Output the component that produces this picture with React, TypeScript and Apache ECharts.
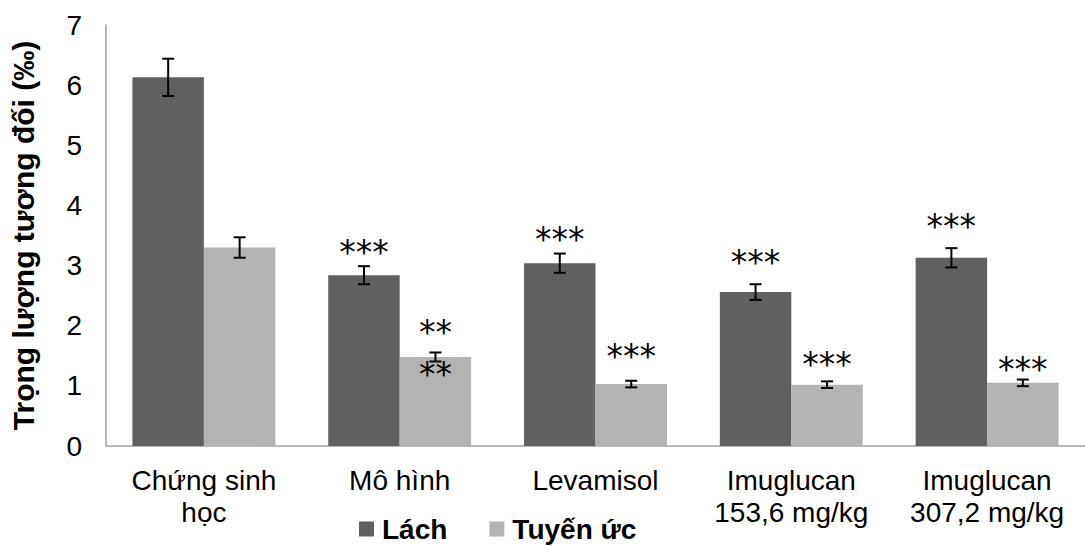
import React, { useEffect, useRef } from "react";
import * as echarts from "echarts";

const categories = [
  "Chứng sinh\nhọc",
  "Mô hình",
  "Levamisol",
  "Imuglucan\n153,6 mg/kg",
  "Imuglucan\n307,2 mg/kg",
];
const lachValues = [6.13, 2.84, 3.04, 2.56, 3.13];
const lachErrors = [0.31, 0.15, 0.16, 0.13, 0.16];
const tuyenValues = [3.3, 1.48, 1.03, 1.02, 1.05];
const tuyenErrors = [0.17, 0.075, 0.055, 0.055, 0.055];
const lachStars = ["", "***", "***", "***", "***"];
const tuyenStars = ["", "**", "***", "***", "***"];
const tuyenStarsBelow = ["", "**", "", "", ""];

// annotation offsets (px) above the error bar top
const lachStarLift = [0, 14, 14, 22, 22];
const tuyenStarLift = [0, 20, 24, 17, 10];
const belowDrop = 13;

const LACH_COLOR = "#606060";
const TUYEN_COLOR = "#b3b3b3";
const GAP_RATIO = 0.27;
const STAR_FONT = '33px "DejaVu Sans"';

function makeRender(side: number, starsAbove: string[], lift: number[], starsBelow: string[] | null) {
  return (params: any, api: any) => {
    const idx = api.value(0);
    const v = api.value(1);
    const e = api.value(2);
    const c = api.coord([idx, v]);
    const bw = (api.size([1, 0])[0] * (1 - GAP_RATIO)) / 2;
    const x = c[0] + (side * bw) / 2;
    const yTop = api.coord([idx, v + e])[1];
    const yBot = api.coord([idx, v - e])[1];
    const cap = 6;
    const ls = { stroke: "#000", lineWidth: 2 };
    const children: any[] = [
      { type: "line", shape: { x1: x, y1: yTop, x2: x, y2: yBot }, style: ls },
      { type: "line", shape: { x1: x - cap, y1: yTop, x2: x + cap, y2: yTop }, style: ls },
      { type: "line", shape: { x1: x - cap, y1: yBot, x2: x + cap, y2: yBot }, style: ls },
    ];
    const s = starsAbove[params.dataIndex];
    if (s) {
      children.push({
        type: "text",
        x: x,
        y: yTop - lift[params.dataIndex],
        style: {
          text: s,
          font: STAR_FONT,
          fill: "#000",
          align: "center",
          verticalAlign: "middle",
          textAlign: "center",
          textVerticalAlign: "middle",
        },
      });
    }
    if (starsBelow && starsBelow[params.dataIndex]) {
      children.push({
        type: "text",
        x: x,
        y: yBot + belowDrop,
        style: {
          text: starsBelow[params.dataIndex],
          font: STAR_FONT,
          fill: "#000",
          align: "center",
          verticalAlign: "middle",
          textAlign: "center",
          textVerticalAlign: "middle",
        },
      });
    }
    return { type: "group", children };
  };
}

export default function App() {
  const ref = useRef<HTMLDivElement>(null);
  useEffect(() => {
    if (!ref.current) return;
    const chart = echarts.init(ref.current, null, { renderer: "svg" });
    const font = '"Liberation Sans", Arial, sans-serif';
    chart.setOption({
      animation: false,
      backgroundColor: "#fff",
      grid: { left: 105, right: -5, top: 25, bottom: 100 },
      legend: {
        left: 354,
        top: 510,
        itemWidth: 15,
        itemHeight: 15,
        itemGap: 42,
        textStyle: {
          fontFamily: font,
          fontSize: 28,
          fontWeight: "bold",
          color: "#000",
          padding: [0, 0, 0, 3],
        },
        data: [
          { name: "Lách", icon: "rect" },
          { name: "Tuyến ức", icon: "rect" },
        ],
      },
      xAxis: {
        type: "category",
        data: categories,
        axisLine: { show: true, lineStyle: { color: "#a0a0a0", width: 1.5 } },
        axisTick: { show: false },
        axisLabel: {
          interval: 0,
          margin: 18,
          fontFamily: font,
          fontSize: 28,
          lineHeight: 32,
          color: "#000",
        },
      },
      yAxis: {
        type: "value",
        min: 0,
        max: 7,
        interval: 1,
        name: "Trọng lượng tương đối (‰)",
        nameLocation: "middle",
        nameGap: 68,
        nameTextStyle: {
          fontFamily: font,
          fontSize: 30,
          fontWeight: "bold",
          color: "#000",
        },
        axisLine: { show: true, lineStyle: { color: "#a0a0a0", width: 1.5 } },
        axisTick: { show: false },
        splitLine: { show: false },
        axisLabel: { margin: 24, fontFamily: font, fontSize: 28, color: "#000" },
      },
      series: [
        {
          name: "Lách",
          type: "bar",
          data: lachValues,
          barGap: "0%",
          barCategoryGap: GAP_RATIO * 100 + "%",
          itemStyle: { color: LACH_COLOR },
        },
        {
          name: "Tuyến ức",
          type: "bar",
          data: tuyenValues,
          barGap: "0%",
          barCategoryGap: GAP_RATIO * 100 + "%",
          itemStyle: { color: TUYEN_COLOR },
        },
        {
          name: "errLach",
          type: "custom",
          renderItem: makeRender(-1, lachStars, lachStarLift, null),
          data: lachValues.map((v, i) => [i, v, lachErrors[i]]),
          encode: { x: 0, y: 1 },
          z: 10,
        },
        {
          name: "errTuyen",
          type: "custom",
          renderItem: makeRender(1, tuyenStars, tuyenStarLift, tuyenStarsBelow),
          data: tuyenValues.map((v, i) => [i, v, tuyenErrors[i]]),
          encode: { x: 0, y: 1 },
          z: 10,
        },
      ],
    });
    return () => chart.dispose();
  }, []);
  return (
    <div
      ref={ref}
      style={{ position: "fixed", left: 0, top: 0, width: 1085, height: 546 }}
    />
  );
}
